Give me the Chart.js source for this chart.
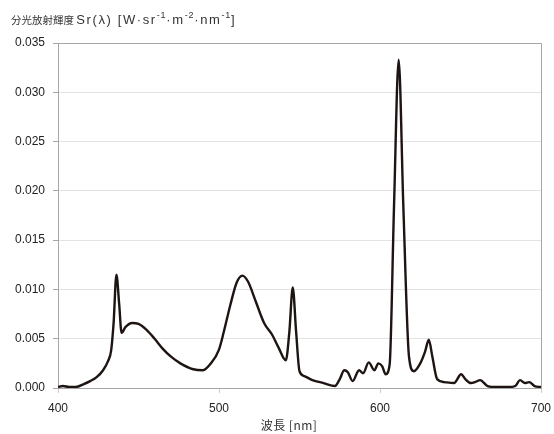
<!DOCTYPE html>
<html>
<head>
<meta charset="utf-8">
<script src="https://cdn.jsdelivr.net/npm/chart.js@4/dist/chart.umd.min.js"></script>
<style>
    html, body { margin: 0; padding: 0; background: #ffffff; }
    #wrap { width: 554px; height: 434px; }
</style>
</head>
<body>
<div id="wrap"><canvas id="spectrum"></canvas></div>
<script>
// Spectral radiance
const wavelengths = [
    400, 403, 407, 411, 416, 420, 424, 428, 431, 433,
    434.5, 436.3, 438, 439.5, 442, 446, 450, 455, 460, 465,
    470, 476, 484, 490, 495, 500, 503, 507, 511, 514.5,
    518, 523, 528, 533, 537, 541.5, 543.7, 545.8, 547.9, 550,
    553, 558, 565, 572, 575, 577.8, 580, 583, 587, 589.5,
    593, 596.5, 599, 601.4, 603.5, 606, 608.7, 611.6, 614.5, 618,
    621, 625, 628, 630.3, 632.5, 635.5, 640, 646, 650.4, 653,
    656.4, 659, 662.2, 666.8, 672, 680, 684, 687, 690, 692.7,
    696, 700
];
const radiance = [
    0.0001, 0.0002, 0.0001, 0.0001, 0.0004, 0.0007, 0.0011, 0.0018, 0.0027, 0.0038,
    0.0065, 0.0115, 0.0085, 0.0056, 0.0062, 0.0066, 0.0065, 0.0059, 0.0050, 0.0040,
    0.0032, 0.0025, 0.0019, 0.0018, 0.0025, 0.0039, 0.0057, 0.0084, 0.0107, 0.0114,
    0.0108, 0.0087, 0.0066, 0.0054, 0.0041, 0.0028, 0.0057, 0.0102, 0.0057, 0.0017,
    0.0012, 0.0008, 0.0005, 0.0002, 0.0009, 0.0018, 0.0016, 0.0007, 0.0018, 0.0015,
    0.0026, 0.0018, 0.0025, 0.0022, 0.0014, 0.0024, 0.0184, 0.0333, 0.0184, 0.0032,
    0.0017, 0.0025, 0.0037, 0.0049, 0.0032, 0.0009, 0.0006, 0.0005, 0.0014, 0.0009,
    0.0005, 0.0006, 0.0008, 0.0002, 0.0001, 0.0001, 0.0002, 0.0008, 0.0005, 0.0006,
    0.0002, 0.0001
];
const xTicks = [400, 500, 600, 700];
const yTicks = [0, 0.005, 0.01, 0.015, 0.02, 0.025, 0.03, 0.035];

const yTitleParts = [
    { text: '分光放射輝度 ', sup: false, cjk: true },
    { text: 'Sr(λ) [W·sr', sup: false },
    { text: '-1', sup: true },
    { text: '·m', sup: false },
    { text: '-2', sup: true },
    { text: '·nm', sup: false },
    { text: '-1', sup: true },
    { text: ']', sup: false }
];
const xTitle = '波長 [nm]';

const latinFont = '"Liberation Sans", Arial, sans-serif';
const cjkFont = '"Noto Sans CJK JP", "Liberation Sans", sans-serif';

// Draws the frame and the two axis titles
const decorations = {
    id: 'decorations',
    afterDraw(chart) {
        const ctx = chart.ctx;
        const area = chart.chartArea;
        ctx.save();
        ctx.strokeStyle = '#a6a6a6';
        ctx.lineWidth = 1;
        ctx.beginPath();
        ctx.moveTo(area.left, area.top + 0.5);
        ctx.lineTo(area.right + 0.5, area.top + 0.5);
        ctx.lineTo(area.right + 0.5, area.bottom);
        ctx.stroke();

        ctx.fillStyle = '#333333';
        ctx.textBaseline = 'alphabetic';
        let x = 11;
        yTitleParts.forEach(part => {
            if (part.sup) {
                ctx.font = '9px ' + latinFont;
                ctx.letterSpacing = '0.8px';
                ctx.fillText(part.text, x, 18);
            } else if (part.cjk) {
                ctx.font = '10.5px ' + cjkFont;
                ctx.letterSpacing = '0px';
                ctx.fillText(part.text, x, 24);
            } else {
                ctx.font = '13px ' + latinFont;
                ctx.letterSpacing = '1.6px';
                ctx.fillText(part.text, x, 24);
            }
            x += ctx.measureText(part.text).width;
        });

        ctx.letterSpacing = '0.5px';
        ctx.font = '12px ' + cjkFont;
        ctx.textAlign = 'center';
        ctx.textBaseline = 'middle';
        ctx.fillText(xTitle, 289, 425);
        ctx.restore();
    }
};

new Chart(document.getElementById('spectrum'), {
    type: 'line',
    data: {
        datasets: [{
            data: wavelengths.map((w, i) => ({ x: w, y: radiance[i] })),
            borderColor: '#1e1512',
            borderWidth: 2.4,
            pointRadius: 0,
            fill: false,
            cubicInterpolationMode: 'monotone'
        }]
    },
    options: {
        responsive: true,
        maintainAspectRatio: false,
        animation: false,
        layout: { padding: { top: 43, right: 13, left: 0, bottom: 0 } },
        plugins: {
            legend: { display: false },
            tooltip: { enabled: false }
        },
        scales: {
            x: {
                type: 'linear',
                min: 400,
                max: 700,
                afterFit: scale => {
                    scale.height = 46;
                    scale.paddingLeft = 0;
                    scale.paddingRight = 0;
                },
                afterBuildTicks: scale => { scale.ticks = xTicks.map(v => ({ value: v })); },
                grid: {
                    drawOnChartArea: false,
                    tickLength: 5,
                    color: '#cccccc'
                },
                border: { color: '#a6a6a6' },
                ticks: {
                    padding: 8,
                    color: '#222222',
                    font: { family: latinFont, size: 12 }
                }
            },
            y: {
                min: 0,
                max: 0.035,
                afterFit: scale => { scale.width = 58; },
                afterBuildTicks: scale => { scale.ticks = yTicks.map(v => ({ value: v })); },
                grid: {
                    color: '#e3e3e3',
                    tickColor: '#a6a6a6',
                    tickLength: 5
                },
                border: { color: '#a6a6a6' },
                ticks: {
                    padding: 8,
                    color: '#222222',
                    font: { family: latinFont, size: 12 },
                    callback: v => v.toFixed(3)
                }
            }
        }
    },
    plugins: [decorations]
});
</script>
</body>
</html>
